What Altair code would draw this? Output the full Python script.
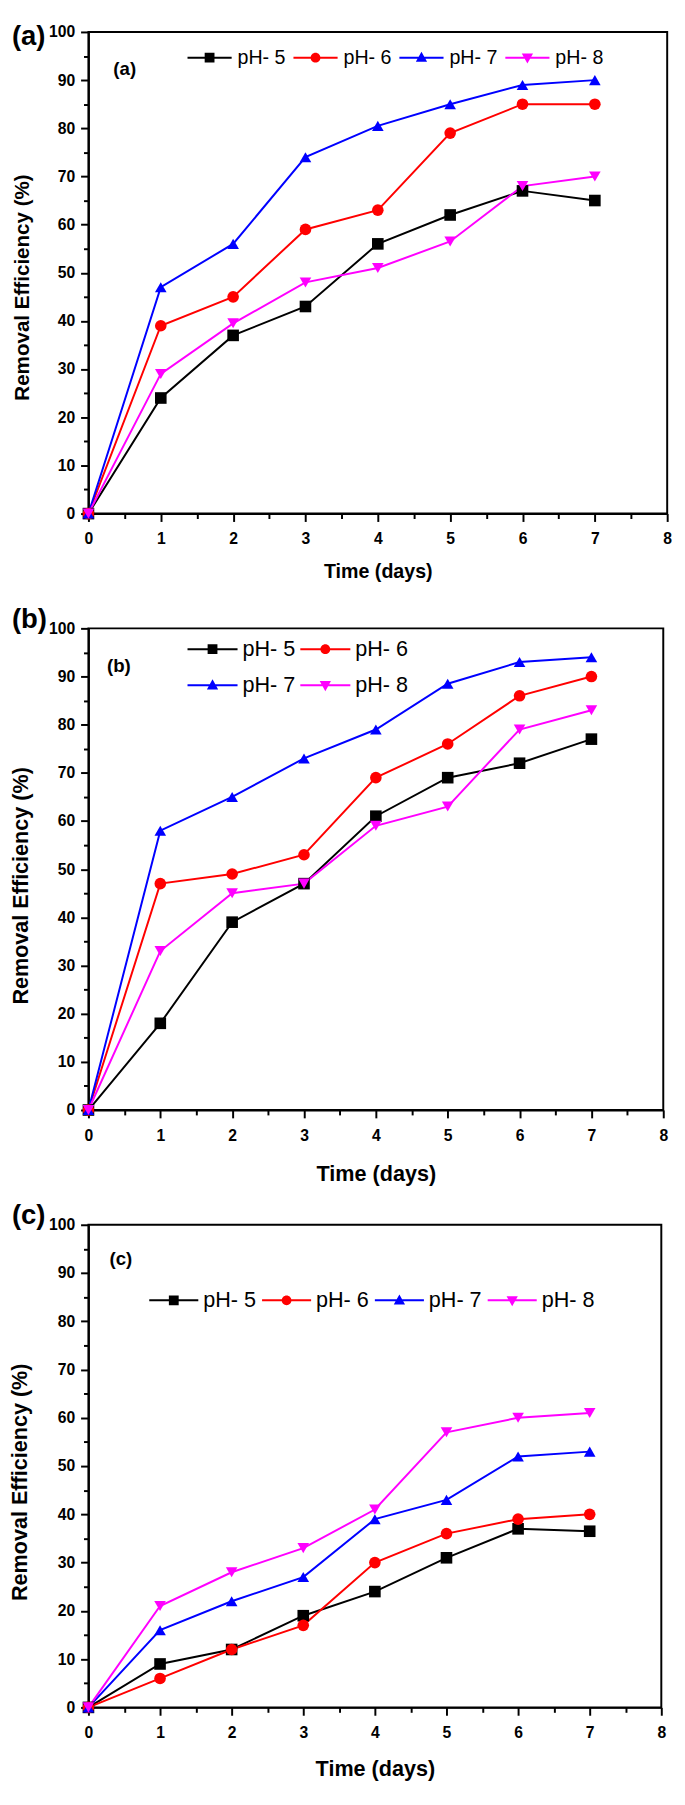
import altair as alt
import pandas as pd

# ---------------- data ----------------
days = [0, 1, 2, 3, 4, 5, 6, 7]
series_names = ["pH- 5", "pH- 6", "pH- 7", "pH- 8"]
series_colors = ["#000000", "#ff0000", "#0000ff", "#ff00ff"]
series_shapes = ["square", "circle", "triangle-up", "triangle-down"]

a_ph5 = [0, 24, 37, 43, 56, 62, 67, 65]
a_ph6 = [0, 39, 45, 59, 63, 79, 85, 85]
a_ph7 = [0, 47, 56, 74, 80.5, 85, 89, 90]
a_ph8 = [0, 29, 39.5, 48, 51, 56.5, 68, 70]

b_ph5 = [0, 18, 39, 47, 61, 69, 72, 77]
b_ph6 = [0, 47, 49, 53, 69, 76, 86, 90]
b_ph7 = [0, 58, 65, 73, 79, 88.5, 93, 94]
b_ph8 = [0, 33, 45, 47, 59, 63, 79, 83]

c_ph5 = [0, 9, 12, 19, 24, 31, 37, 36.5]
c_ph6 = [0, 6, 12, 17, 30, 36, 39, 40]
c_ph7 = [0, 16, 22, 27, 39, 43, 52, 53]
c_ph8 = [0, 21, 28, 33, 41, 57, 60, 61]

x_major = [0, 1, 2, 3, 4, 5, 6, 7, 8]
x_minor = [0.5, 1.5, 2.5, 3.5, 4.5, 5.5, 6.5, 7.5]
y_major = [0, 10, 20, 30, 40, 50, 60, 70, 80, 90, 100]
y_minor = [5, 15, 25, 35, 45, 55, 65, 75, 85, 95]

panel_tags = ["(a)", "(b)", "(c)"]
x_titles = ["Time (days)", "Time (days)", "Time  (days)"]
y_title = "Removal Efficiency (%)"

FONT = "Liberation Sans"


def legend_shapes(L, m=5.0, t=1.0):
    """Custom legend symbols: a line with the series marker on it."""
    s = L / 2.0
    h = round(m / s, 4)
    w = round(t / s, 4)
    line = f"M-1,{-w}L1,{-w}L1,{w}L-1,{w}Z"
    sq = f"M{-h},{-h}L{h},{-h}L{h},{h}L{-h},{h}Z"
    ci = f"M{-h},0A{h},{h},0,1,1,{h},0A{h},{h},0,1,1,{-h},0Z"
    a, b, c = round(1.2 * h, 4), round(1.15 * h, 4), round(0.85 * h, 4)
    tu = f"M0,{-a}L{b},{c}L{-b},{c}Z"
    td = f"M{-b},{-c}L{b},{-c}L0,{a}Z"
    return [line + sq, line + ci, line + tu, line + td]


def make_panel(series, tag, xtitle, w, h, st):
    rows = []
    for name, vals in zip(series_names, series):
        for d, v in zip(days, vals):
            rows.append({"day": d, "eff": v, "pH": name})
    df = pd.DataFrame(rows)
    base = alt.Chart(df)

    xs = alt.Scale(domain=[0, 8], nice=False, zero=False)
    ys = alt.Scale(domain=[0, 100], nice=False)
    cs = alt.Scale(domain=series_names, range=series_colors)

    lines = base.mark_line(strokeWidth=2).encode(
        x=alt.X("day:Q", scale=xs,
                axis=alt.Axis(values=x_major, format="d", title=xtitle, orient="bottom",
                              tickSize=8, labelPadding=10, titlePadding=st["xtp"],
                              titleFontSize=st["xfs"])),
        y=alt.Y("eff:Q", scale=ys,
                axis=alt.Axis(values=y_major, format="d", title=y_title, orient="left",
                              tickSize=8, labelPadding=6, titlePadding=st["ytp"],
                              titleFontSize=st["yfs"], titleY=st["yty"])),
        color=alt.Color("pH:N", scale=cs, legend=None),
    )

    points = base.mark_point(filled=True, opacity=1, size=140).encode(
        x=alt.X("day:Q", axis=alt.Axis(values=x_minor, labels=False, title=None,
                                       domain=False, tickSize=5, orient="bottom")),
        y=alt.Y("eff:Q", axis=alt.Axis(values=y_minor, labels=False, title=None,
                                       domain=False, tickSize=5, orient="left")),
        color=alt.Color("pH:N", scale=cs, legend=None),
        shape=alt.Shape("pH:N", scale=alt.Scale(domain=series_names, range=series_shapes),
                        legend=None),
    )

    leg = alt.Legend(
        title=None, orient="none", legendX=st["lx"], legendY=st["ly"],
        direction="horizontal", columns=st["lcols"], symbolSize=st["L"] ** 2,
        symbolStrokeWidth=0, labelFont=FONT, labelFontSize=st["lfs"],
        labelColor="black", labelOffset=st["loff"], columnPadding=st["lcp"],
        rowPadding=st["lrp"], padding=0,
    )
    legend_layer = base.transform_filter("false").mark_point(filled=True, opacity=1).encode(
        fill=alt.Fill("pH:N", scale=alt.Scale(domain=series_names, range=series_colors),
                      legend=leg),
        shape=alt.Shape("pH:N", scale=alt.Scale(domain=series_names,
                                                range=legend_shapes(st["L"])),
                        legend=leg),
    )

    tag_data = alt.Data(values=[{"t": tag}])
    inner = alt.Chart(tag_data).mark_text(
        font=FONT, fontWeight="bold", fontSize=st["ifs"], align="center",
        baseline="middle", color="black"
    ).encode(x=alt.value(st["ix"]), y=alt.value(st["iy"]), text="t:N")
    outer = alt.Chart(tag_data).mark_text(
        font=FONT, fontWeight="bold", fontSize=28, align="left",
        baseline="middle", color="black"
    ).encode(x=alt.value(-78), y=alt.value(st["oy"]), text="t:N")

    return alt.layer(lines, points, legend_layer, inner, outer).resolve_scale(
        fill="independent", shape="independent"
    ).resolve_axis(x="independent", y="independent").properties(width=w, height=h)


style_a = dict(xtp=15, xfs=20, ytp=16, yfs=21, yty=260, lx=101, ly=3.5, lcols=4, L=45,
               lfs=20, loff=6, lcp=8, lrp=7, ifs=19, ix=37, iy=38, oy=5)
style_b = dict(xtp=21, xfs=22, ytp=16, yfs=22, yty=262, lx=101, ly=-4.5, lcols=2, L=51,
               lfs=22, loff=5, lcp=5, lrp=-7, ifs=19, ix=31, iy=38, oy=-8)
style_c = dict(xtp=18, xfs=22, ytp=17, yfs=22, yty=262, lx=62, ly=52, lcols=4, L=50,
               lfs=22, loff=5, lcp=6, lrp=7, ifs=19, ix=33, iy=35, oy=-9)

pa = make_panel([a_ph5, a_ph6, a_ph7, a_ph8], panel_tags[0], x_titles[0], 590, 491, style_a)
pb = make_panel([b_ph5, b_ph6, b_ph7, b_ph8], panel_tags[1], x_titles[1], 586, 491, style_b)
pc = make_panel([c_ph5, c_ph6, c_ph7, c_ph8], panel_tags[2], x_titles[2], 584, 492, style_c)

chart = alt.vconcat(pa, pb, pc, spacing=117, bounds="flush").properties(
    padding={"left": 0, "top": -3, "right": 4, "bottom": 4}
).configure_view(
    stroke="black", strokeWidth=2
).configure_axis(
    domainColor="black", domainWidth=2, tickColor="black", tickWidth=2,
    labelFont=FONT, labelFontSize=16, labelFontWeight="bold", labelColor="black",
    titleFont=FONT, titleFontWeight="bold", titleColor="black", grid=False,
    labelFlush=False, labelOverlap=False
)

chart.save("out.html", embed_options={"renderer": "svg", "actions": False})
